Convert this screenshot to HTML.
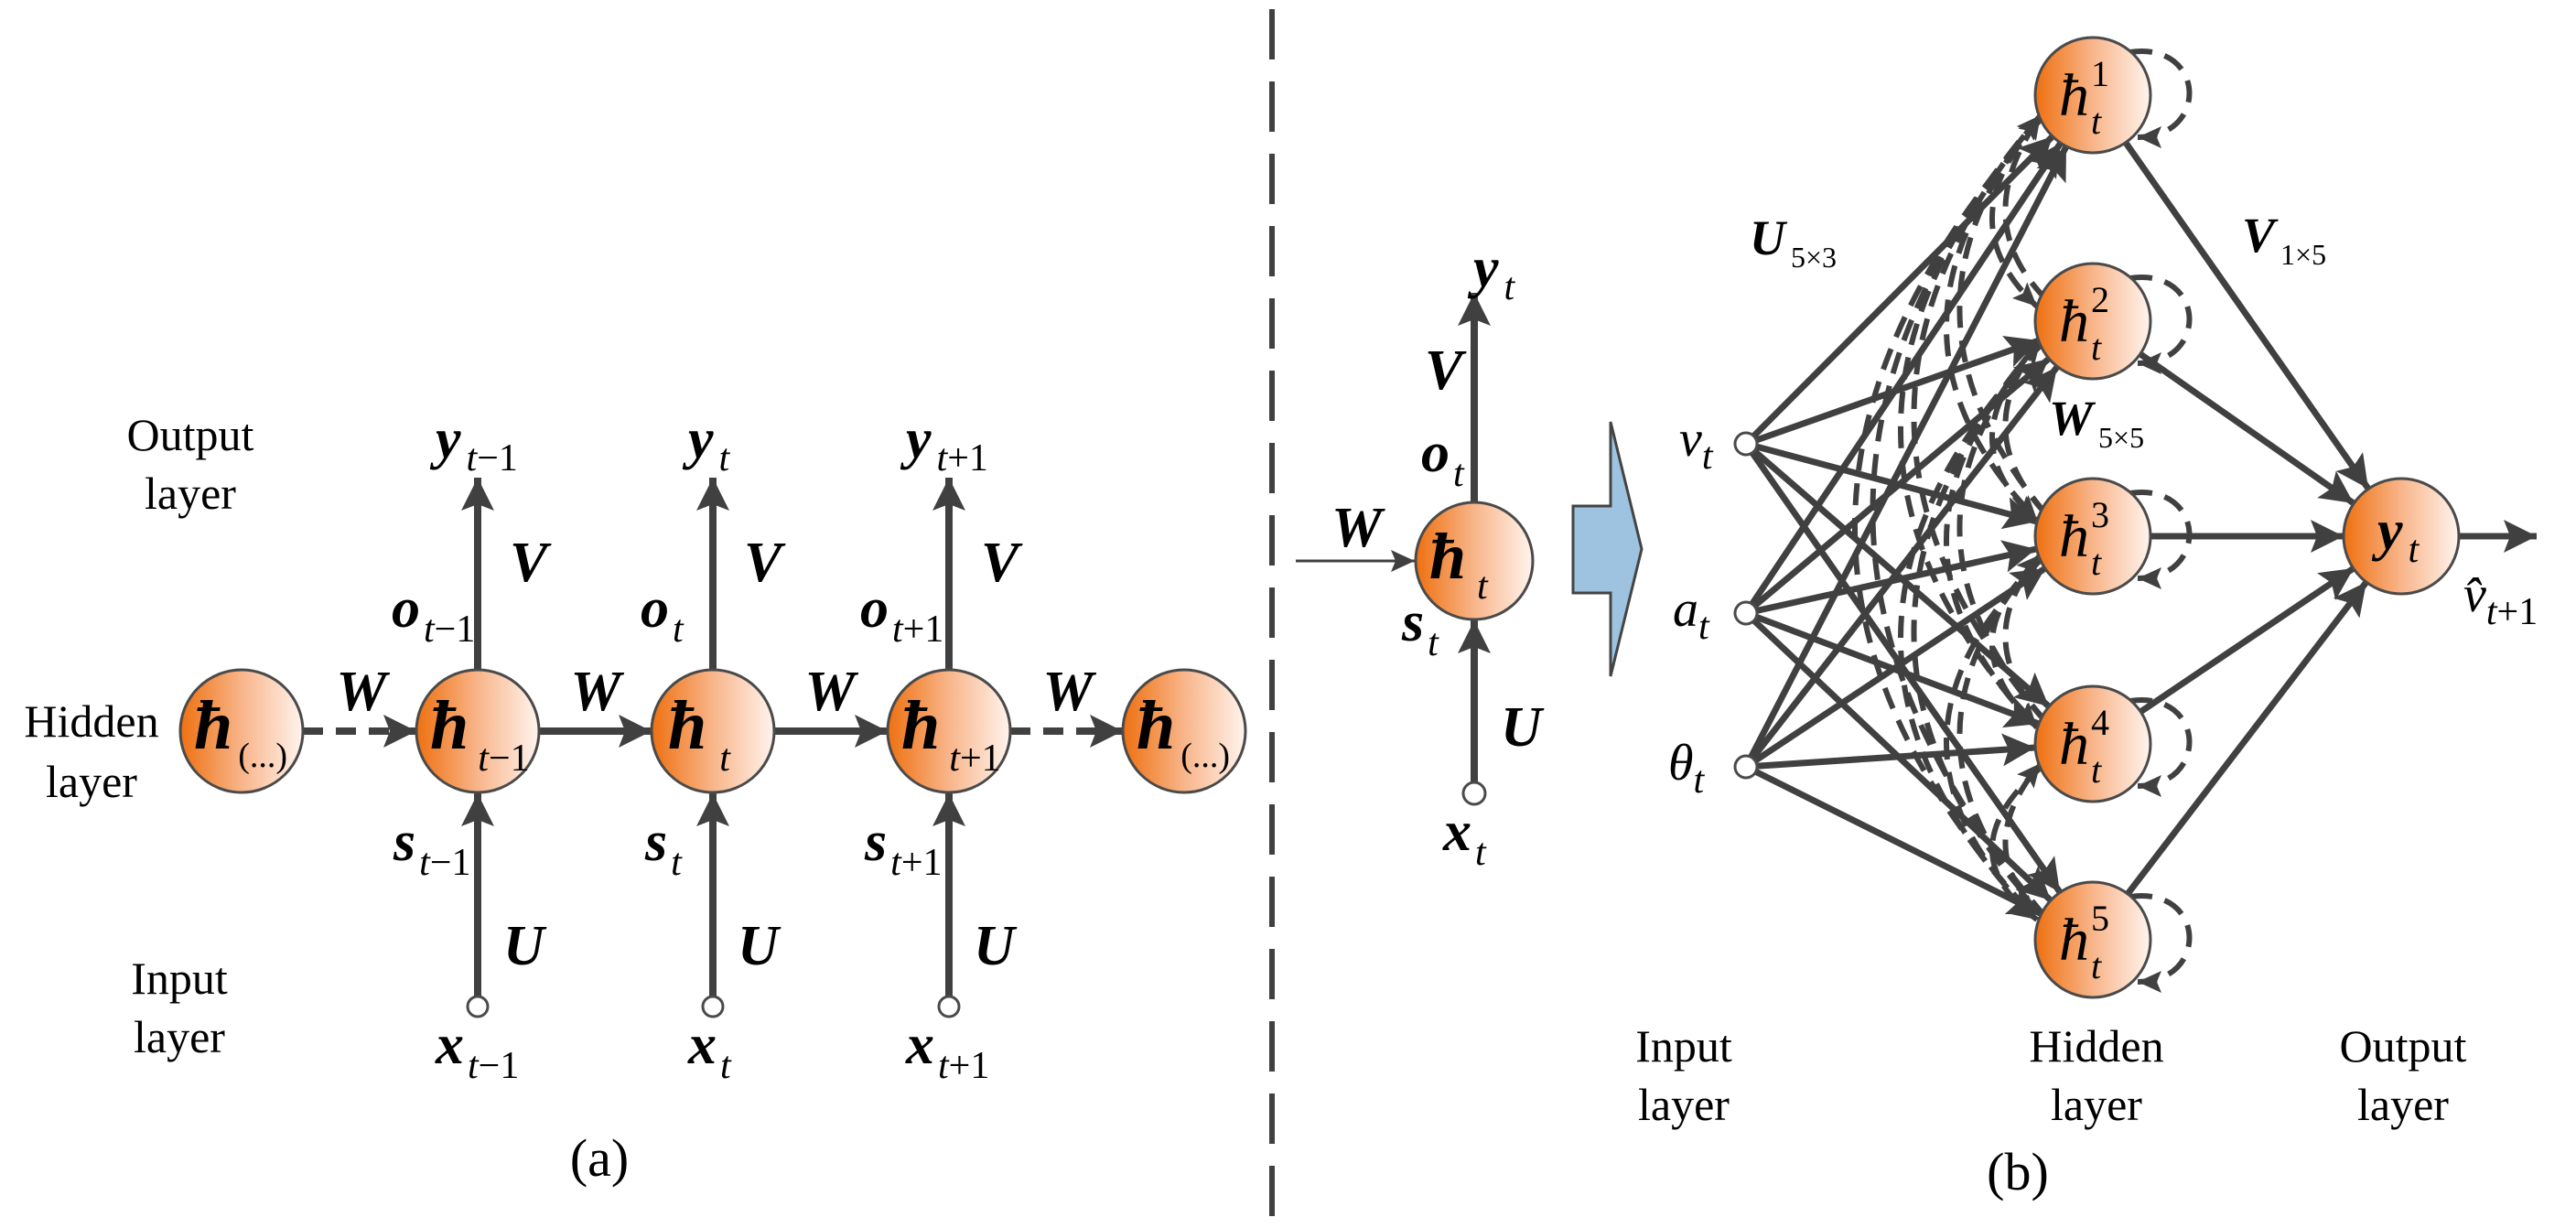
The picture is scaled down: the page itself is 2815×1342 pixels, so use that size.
<!DOCTYPE html>
<html><head><meta charset="utf-8"><style>
html,body{margin:0;padding:0;background:#fff}
svg{display:block;font-family:"Liberation Serif","DejaVu Serif",serif}
svg text, svg tspan{font-family:"Liberation Serif","DejaVu Serif",serif;fill:#000}
.s{font-weight:bold;font-style:italic;font-size:62px}
.h{font-weight:bold;font-style:italic;font-size:76px}
.b{font-style:italic;font-size:42px;font-weight:normal}
.n{font-size:50px}
</style></head><body>
<svg width="2815" height="1342" viewBox="0 0 2815 1342" xmlns="http://www.w3.org/2000/svg" font-family="Liberation Serif, DejaVu Serif, serif">
<defs>
<linearGradient id="g" x1="0" x2="1" y1="0" y2="0">
<stop offset="0" stop-color="#ee7010"/><stop offset="0.5" stop-color="#f8b58a"/><stop offset="1" stop-color="#fff4ee"/>
</linearGradient>
<marker id="a" markerUnits="userSpaceOnUse" markerWidth="40" markerHeight="40" refX="36" refY="18" orient="auto">
<path d="M0,0 L36,18 L0,36 L7,18 Z" fill="#404040"/></marker>
<marker id="m" markerUnits="userSpaceOnUse" markerWidth="30" markerHeight="30" refX="26" refY="12" orient="auto">
<path d="M0,0 L26,12 L0,24 L5,12 Z" fill="#404040"/></marker>
</defs>

<line x1="1390" y1="10" x2="1390" y2="1335" stroke="#404040" stroke-width="6" stroke-dasharray="55,24"/>

<!-- LEFT PANEL -->
<g stroke="#404040" stroke-width="8" fill="none">
<line x1="522" y1="732" x2="522" y2="522" marker-end="url(#a)"/>
<line x1="779" y1="732" x2="779" y2="522" marker-end="url(#a)"/>
<line x1="1037" y1="732" x2="1037" y2="522" marker-end="url(#a)"/>
<line x1="522" y1="1090" x2="522" y2="867" marker-end="url(#a)"/>
<line x1="779" y1="1090" x2="779" y2="867" marker-end="url(#a)"/>
<line x1="1037" y1="1090" x2="1037" y2="867" marker-end="url(#a)"/>
<line x1="331" y1="799" x2="455" y2="799" stroke-dasharray="22,14" marker-end="url(#a)"/>
<line x1="589" y1="799" x2="712" y2="799" marker-end="url(#a)"/>
<line x1="846" y1="799" x2="970" y2="799" marker-end="url(#a)"/>
<line x1="1104" y1="799" x2="1227" y2="799" stroke-dasharray="22,14" marker-end="url(#a)"/>
</g>
<g stroke="#4a4a4a" stroke-width="3" fill="url(#g)">
<circle cx="264" cy="799" r="67"/><circle cx="522" cy="799" r="67"/><circle cx="779" cy="799" r="67"/><circle cx="1037" cy="799" r="67"/><circle cx="1294" cy="799" r="67"/>
</g>
<g stroke="#4a4a4a" stroke-width="3" fill="#fff">
<circle cx="522" cy="1100" r="11"/><circle cx="779" cy="1100" r="11"/><circle cx="1037" cy="1100" r="11"/>
</g>
<text class="n" x="208" y="492" text-anchor="middle">Output</text>
<text class="n" x="208" y="556" text-anchor="middle">layer</text>
<text class="n" x="100" y="805" text-anchor="middle">Hidden</text>
<text class="n" x="100" y="871" text-anchor="middle">layer</text>
<text class="n" x="196" y="1086" text-anchor="middle">Input</text>
<text class="n" x="196" y="1150" text-anchor="middle">layer</text>
<text class="n" x="655" y="1285" text-anchor="middle" style="font-size:58px">(a)</text>

<text x="212" y="818"><tspan class="h">ħ</tspan><tspan style="font-size:38px" dx="6" dy="20">(...)</tspan></text>
<text x="1242" y="818"><tspan class="h">ħ</tspan><tspan style="font-size:38px" dx="6" dy="20">(...)</tspan></text>
<text x="470" y="818"><tspan class="h">ħ</tspan><tspan class="b" dx="10" dy="24">t</tspan><tspan style="font-size:42px">−1</tspan></text>
<text x="730" y="818"><tspan class="h">ħ</tspan><tspan class="b" dx="14" dy="24">t</tspan></text>
<text x="985" y="818"><tspan class="h">ħ</tspan><tspan class="b" dx="10" dy="24">t</tspan><tspan style="font-size:42px">+1</tspan></text>

<text x="476" y="500"><tspan class="s">y</tspan><tspan class="b" dx="6" dy="14">t</tspan><tspan style="font-size:42px">−1</tspan></text>
<text x="752" y="500"><tspan class="s">y</tspan><tspan class="b" dx="6" dy="14">t</tspan></text>
<text x="990" y="500"><tspan class="s">y</tspan><tspan class="b" dx="6" dy="14">t</tspan><tspan style="font-size:42px">+1</tspan></text>

<text class="s" x="557" y="635">V</text><text class="s" x="813" y="635">V</text><text class="s" x="1072" y="635">V</text>
<text x="428" y="685"><tspan class="s">o</tspan><tspan class="b" dx="4" dy="16">t</tspan><tspan style="font-size:42px">−1</tspan></text>
<text x="700" y="685"><tspan class="s">o</tspan><tspan class="b" dx="4" dy="16">t</tspan></text>
<text x="940" y="685"><tspan class="s">o</tspan><tspan class="b" dx="4" dy="16">t</tspan><tspan style="font-size:42px">+1</tspan></text>
<text x="430" y="940"><tspan class="s">s</tspan><tspan class="b" dx="4" dy="16">t</tspan><tspan style="font-size:42px">−1</tspan></text>
<text x="705" y="940"><tspan class="s">s</tspan><tspan class="b" dx="4" dy="16">t</tspan></text>
<text x="945" y="940"><tspan class="s">s</tspan><tspan class="b" dx="4" dy="16">t</tspan><tspan style="font-size:42px">+1</tspan></text>
<text class="s" x="550" y="1054">U</text><text class="s" x="806" y="1054">U</text><text class="s" x="1064" y="1054">U</text>
<text x="476" y="1162"><tspan class="s">x</tspan><tspan class="b" dx="4" dy="16">t</tspan><tspan style="font-size:42px">−1</tspan></text>
<text x="752" y="1162"><tspan class="s">x</tspan><tspan class="b" dx="4" dy="16">t</tspan></text>
<text x="990" y="1162"><tspan class="s">x</tspan><tspan class="b" dx="4" dy="16">t</tspan><tspan style="font-size:42px">+1</tspan></text>
<text class="s" x="395" y="776" text-anchor="middle">W</text>
<text class="s" x="651" y="776" text-anchor="middle">W</text>
<text class="s" x="907" y="776" text-anchor="middle">W</text>
<text class="s" x="1167" y="776" text-anchor="middle">W</text>

<!-- MIDDLE -->
<g stroke="#404040" fill="none">
<line x1="1611" y1="549" x2="1611" y2="320" stroke-width="8" marker-end="url(#a)"/>
<line x1="1611" y1="857" x2="1611" y2="678" stroke-width="8" marker-end="url(#a)"/>
<line x1="1416" y1="613" x2="1546" y2="613" stroke-width="3" marker-end="url(#m)"/>
</g>
<circle cx="1611" cy="613" r="64" fill="url(#g)" stroke="#4a4a4a" stroke-width="3"/>
<circle cx="1611" cy="867" r="12" fill="#fff" stroke="#4a4a4a" stroke-width="3"/>
<text x="1562" y="632"><tspan class="h" style="font-size:72px">ħ</tspan><tspan class="b" dx="12" dy="22">t</tspan></text>
<text x="1610" y="313"><tspan class="s">y</tspan><tspan class="b" dx="6" dy="14">t</tspan></text>
<text class="s" x="1557" y="425">V</text>
<text x="1553" y="515"><tspan class="s">o</tspan><tspan class="b" dx="4" dy="16">t</tspan></text>
<text class="s" x="1455" y="597">W</text>
<text x="1532" y="700"><tspan class="s">s</tspan><tspan class="b" dx="4" dy="16">t</tspan></text>
<text class="s" x="1640" y="815">U</text>
<text x="1577" y="929"><tspan class="s">x</tspan><tspan class="b" dx="4" dy="16">t</tspan></text>
<polygon points="1719,553 1760,553 1760,461 1794,600 1760,739 1760,648 1719,648" fill="#9dc3e0" stroke="#444" stroke-width="3"/>

<!-- RIGHT: dashed recurrent arcs -->
<g stroke="#404040" stroke-width="6" fill="none" stroke-dasharray="24,14" marker-end="url(#m)">
<path d="M2232,128 Q2125,240 2226,335"/>
<path d="M2232,128 Q2025,360 2226,568"/>
<path d="M2232,128 Q1925,470 2226,795"/>
<path d="M2232,128 Q1825,580 2226,1005"/>
<path d="M2232,375 Q2125,480 2226,568"/>
<path d="M2232,375 Q2025,590 2226,795"/>
<path d="M2232,375 Q1925,700 2226,1005"/>
<path d="M2232,610 Q2125,700 2226,795"/>
<path d="M2232,610 Q2025,810 2226,1005"/>
<path d="M2232,837 Q2125,930 2226,1005"/>
<path d="M2236,1003 Q2150,930 2230,834"/>
<path d="M2236,1003 Q2050,810 2230,606"/>
<path d="M2236,1003 Q1950,700 2230,372"/>
<path d="M2236,1003 Q1860,560 2230,126"/>
<path d="M2236,789 Q2150,700 2230,606"/>
<path d="M2236,789 Q2050,580 2230,372"/>
<path d="M2236,789 Q1950,460 2230,126"/>
<path d="M2236,562 Q2150,470 2230,372"/>
<path d="M2236,562 Q2050,340 2230,126"/>
<path d="M2236,327 Q2150,240 2230,126"/>
</g>
<g stroke="#404040" stroke-width="6" fill="none" stroke-dasharray="24,14" marker-end="url(#m)">
<path d="M2328,57 C2410,45 2415,150 2336,150"/>
<path d="M2328,304 C2410,292 2415,397 2336,397"/>
<path d="M2328,539 C2410,527 2415,632 2336,632"/>
<path d="M2328,766 C2410,754 2415,859 2336,859"/>
<path d="M2328,980 C2410,968 2415,1073 2336,1073"/>
</g>
<g stroke="#404040" stroke-width="7" fill="none" marker-end="url(#a)">
<line x1="1908" y1="485" x2="2243" y2="149"/>
<line x1="1908" y1="485" x2="2228" y2="372"/>
<line x1="1908" y1="485" x2="2226" y2="570"/>
<line x1="1908" y1="485" x2="2239" y2="772"/>
<line x1="1908" y1="485" x2="2251" y2="975"/>
<line x1="1908" y1="670" x2="2252" y2="156"/>
<line x1="1908" y1="670" x2="2239" y2="392"/>
<line x1="1908" y1="670" x2="2225" y2="600"/>
<line x1="1908" y1="670" x2="2228" y2="791"/>
<line x1="1908" y1="670" x2="2241" y2="984"/>
<line x1="1908" y1="838" x2="2258" y2="160"/>
<line x1="1908" y1="838" x2="2248" y2="401"/>
<line x1="1908" y1="838" x2="2235" y2="621"/>
<line x1="1908" y1="838" x2="2224" y2="817"/>
<line x1="1908" y1="838" x2="2231" y2="999"/>
<line x1="2323" y1="156" x2="2588" y2="534"/>
<line x1="2339" y1="387" x2="2572" y2="550"/>
<line x1="2350" y1="586" x2="2561" y2="586"/>
<line x1="2339" y1="778" x2="2572" y2="621"/>
<line x1="2325" y1="977" x2="2586" y2="636"/>
<line x1="2687" y1="586" x2="2772" y2="586"/>
</g>
<g stroke="#4a4a4a" stroke-width="3" fill="url(#g)">
<circle cx="2287" cy="104" r="63"/><circle cx="2287" cy="351" r="63"/><circle cx="2287" cy="586" r="63"/><circle cx="2287" cy="813" r="63"/><circle cx="2287" cy="1027" r="63"/>
<circle cx="2624" cy="586" r="63"/>
</g>
<g stroke="#4a4a4a" stroke-width="3" fill="#fff">
<circle cx="1908" cy="485" r="12"/><circle cx="1908" cy="670" r="12"/><circle cx="1908" cy="838" r="12"/>
</g>
<g style="font-style:italic;font-size:66px">
<text x="2250" y="126">ħ<tspan style="font-size:40px;font-style:normal" dx="2" dy="-32">1</tspan><tspan style="font-size:40px" dx="-20" dy="52">t</tspan></text>
<text x="2250" y="373">ħ<tspan style="font-size:40px;font-style:normal" dx="2" dy="-32">2</tspan><tspan style="font-size:40px" dx="-20" dy="52">t</tspan></text>
<text x="2250" y="608">ħ<tspan style="font-size:40px;font-style:normal" dx="2" dy="-32">3</tspan><tspan style="font-size:40px" dx="-20" dy="52">t</tspan></text>
<text x="2250" y="835">ħ<tspan style="font-size:40px;font-style:normal" dx="2" dy="-32">4</tspan><tspan style="font-size:40px" dx="-20" dy="52">t</tspan></text>
<text x="2250" y="1049">ħ<tspan style="font-size:40px;font-style:normal" dx="2" dy="-32">5</tspan><tspan style="font-size:40px" dx="-20" dy="52">t</tspan></text>
</g>
<text x="2598" y="600"><tspan class="s">y</tspan><tspan class="b" dx="6" dy="14">t</tspan></text>
<text x="2692" y="668" style="font-style:italic;font-size:56px">v̂<tspan class="b" dy="14">t</tspan><tspan style="font-size:42px;font-style:normal">+1</tspan></text>
<text x="1835" y="498" style="font-style:italic;font-size:56px">v<tspan class="b" dy="14">t</tspan></text>
<text x="1828" y="684" style="font-style:italic;font-size:56px">a<tspan class="b" dy="14">t</tspan></text>
<text x="1823" y="852" style="font-style:italic;font-size:56px">θ<tspan class="b" dy="14">t</tspan></text>
<text x="1912" y="278"><tspan class="s" style="font-size:54px">U</tspan><tspan style="font-size:32px" dx="6" dy="14">5×3</tspan></text>
<text x="2450" y="275"><tspan class="s" style="font-size:54px">V</tspan><tspan style="font-size:32px" dx="6" dy="14">1×5</tspan></text>
<text x="2239" y="475"><tspan class="s" style="font-size:54px">W</tspan><tspan style="font-size:32px" dx="6" dy="14">5×5</tspan></text>
<text class="n" x="1840" y="1160" text-anchor="middle">Input</text>
<text class="n" x="1840" y="1224" text-anchor="middle">layer</text>
<text class="n" x="2291" y="1160" text-anchor="middle">Hidden</text>
<text class="n" x="2291" y="1224" text-anchor="middle">layer</text>
<text class="n" x="2626" y="1160" text-anchor="middle">Output</text>
<text class="n" x="2626" y="1224" text-anchor="middle">layer</text>
<text class="n" x="2205" y="1300" text-anchor="middle" style="font-size:58px">(b)</text>
</svg>
</body></html>
